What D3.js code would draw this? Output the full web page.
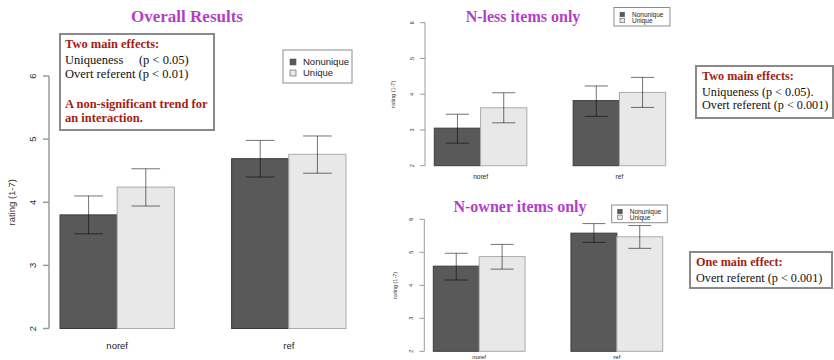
<!DOCTYPE html>
<html>
<head>
<meta charset="utf-8">
<script src="https://cdn.jsdelivr.net/npm/d3@7"></script>
<style>
  html, body { margin: 0; padding: 0; background: #fff; }
  svg { display: block; }
</style>
</head>
<body>
<svg id="chart" width="834" height="360"></svg>
<script>
// --- data ---
const groups = ['noref', 'ref'];
const series = ['Nonunique', 'Unique'];
const yTicks = [2, 3, 4, 5, 6];

// overall results
const overallNonunique = [3.80, 4.69];
const overallNonuniqueLo = [3.50, 4.40];
const overallNonuniqueHi = [4.10, 4.98];
const overallUnique = [4.24, 4.76];
const overallUniqueLo = [3.94, 4.46];
const overallUniqueHi = [4.53, 5.05];

// N-less items
const nlessNonunique = [3.05, 3.82];
const nlessNonuniqueLo = [2.63, 3.38];
const nlessNonuniqueHi = [3.44, 4.23];
const nlessUnique = [3.62, 4.05];
const nlessUniqueLo = [3.20, 3.63];
const nlessUniqueHi = [4.04, 4.47];

// N-owner items
const nownerNonunique = [4.58, 5.58];
const nownerNonuniqueLo = [4.16, 5.30];
const nownerNonuniqueHi = [4.97, 5.87];
const nownerUnique = [4.87, 5.47];
const nownerUniqueLo = [4.49, 5.12];
const nownerUniqueHi = [5.24, 5.81];

const fill = { Nonunique: '#595959', Unique: '#e8e8e8' };
const edge = { Nonunique: '#3c3c3c', Unique: '#ababab' };
const titleColor = '#b23fc6';
const noteColor = '#a31d12';

const svg = d3.select('#chart');

function rows(mean, lo, hi, nonU, nonULo, nonUHi) {
  // flatten into one row per bar
  const out = [];
  groups.forEach((g, i) => {
    out.push({ group: g, series: 'Nonunique', v: nonU[i], lo: nonULo[i], hi: nonUHi[i] });
    out.push({ group: g, series: 'Unique', v: mean[i], lo: lo[i], hi: hi[i] });
  });
  return out;
}

function drawPanel(p) {
  const g = svg.append('g');
  const y = d3.scaleLinear().domain([2, 6]).range(p.yRange);
  const x0 = d3.scaleBand().domain(groups).range(p.xRange).paddingInner(1 / 3).paddingOuter(0);
  const x1 = d3.scaleBand().domain(series).range([0, x0.bandwidth()]);

  // bars
  g.selectAll('rect.bar')
    .data(p.data)
    .join('rect')
    .attr('class', 'bar')
    .attr('x', d => x0(d.group) + x1(d.series))
    .attr('y', d => y(d.v))
    .attr('width', x1.bandwidth())
    .attr('height', d => y(2) - y(d.v))
    .attr('fill', d => fill[d.series])
    .attr('stroke', d => edge[d.series])
    .attr('stroke-width', p.barStroke);

  // error bars
  const cap = x1.bandwidth() * 0.25;
  const eb = g.selectAll('g.err').data(p.data).join('g').attr('class', 'err')
    .attr('stroke', 'rgba(0,0,0,0.55)').attr('stroke-width', 1).attr('fill', 'none');
  eb.append('line')
    .attr('x1', d => x0(d.group) + x1(d.series) + x1.bandwidth() / 2)
    .attr('x2', d => x0(d.group) + x1(d.series) + x1.bandwidth() / 2)
    .attr('y1', d => y(d.lo)).attr('y2', d => y(d.hi));
  ['lo', 'hi'].forEach(k => {
    eb.append('line')
      .attr('x1', d => x0(d.group) + x1(d.series) + x1.bandwidth() / 2 - cap)
      .attr('x2', d => x0(d.group) + x1(d.series) + x1.bandwidth() / 2 + cap)
      .attr('y1', d => y(d[k])).attr('y2', d => y(d[k]));
  });

  // y axis (R style: rotated labels)
  const ax = g.append('g').attr('stroke', '#9a9a9a').attr('stroke-width', p.axisStroke);
  ax.append('line').attr('x1', p.axisX).attr('x2', p.axisX)
    .attr('y1', y(6)).attr('y2', y(2));
  ax.selectAll('line.tick').data(yTicks).join('line').attr('class', 'tick')
    .attr('x1', p.axisX - p.tickLen).attr('x2', p.axisX)
    .attr('y1', d => y(d)).attr('y2', d => y(d));
  g.selectAll('text.ytick').data(yTicks).join('text').attr('class', 'ytick')
    .attr('transform', d => `translate(${p.tickLabelX},${y(d)}) rotate(-90)`)
    .attr('text-anchor', 'middle')
    .attr('dy', '0.35em')
    .attr('font-family', 'Liberation Sans, Arial, sans-serif')
    .attr('font-size', p.tickFont)
    .attr('fill', '#333')
    .text(d => d);
  g.append('text')
    .attr('transform', `translate(${p.yLabelX},${(y(2) + y(6)) / 2}) rotate(-90)`)
    .attr('text-anchor', 'middle')
    .attr('dy', '0.35em')
    .attr('font-family', 'Liberation Sans, Arial, sans-serif')
    .attr('font-size', p.yLabelFont)
    .attr('fill', '#333')
    .text('rating (1-7)');

  // group labels
  g.selectAll('text.xlab').data(groups).join('text').attr('class', 'xlab')
    .attr('x', d => x0(d) + x0.bandwidth() / 2)
    .attr('y', p.xLabelY)
    .attr('text-anchor', 'middle')
    .attr('font-family', 'Liberation Sans, Arial, sans-serif')
    .attr('font-size', p.xLabelFont)
    .attr('fill', '#222')
    .text(d => d);

  // title
  g.append('text')
    .attr('x', p.titleX).attr('y', p.titleY)
    .attr('text-anchor', 'middle')
    .attr('font-family', 'Liberation Serif, Times New Roman, serif')
    .attr('font-weight', 'bold')
    .attr('font-size', p.titleFont)
    .attr('fill', titleColor)
    .text(p.title);

  // legend
  const L = p.legend;
  const lg = g.append('g');
  lg.append('rect').attr('x', L.x).attr('y', L.y).attr('width', L.w).attr('height', L.h)
    .attr('fill', '#fff').attr('stroke', '#8c8c8c').attr('stroke-width', 1);
  series.forEach((s, i) => {
    const cy = L.y + L.row0 + i * L.rowGap;
    lg.append('rect')
      .attr('x', L.x + L.sx).attr('y', cy - L.sq / 2)
      .attr('width', L.sq).attr('height', L.sq)
      .attr('fill', fill[s]).attr('stroke', '#555').attr('stroke-width', 0.6);
    lg.append('text')
      .attr('x', L.x + L.tx).attr('y', cy).attr('dy', '0.35em')
      .attr('font-family', 'Liberation Sans, Arial, sans-serif')
      .attr('font-size', L.font).attr('fill', '#222')
      .text(s);
  });
}

function noteBox(b) {
  const g = svg.append('g');
  g.append('rect').attr('x', b.x).attr('y', b.y).attr('width', b.w).attr('height', b.h)
    .attr('fill', '#fff').attr('stroke', '#8a8a8a').attr('stroke-width', 2);
  b.lines.forEach(l => {
    g.append('text')
      .attr('x', b.x + b.pad).attr('y', l.y)
      .attr('font-family', 'Liberation Serif, Times New Roman, serif')
      .attr('font-size', b.font)
      .attr('font-weight', l.bold ? 'bold' : 'normal')
      .attr('fill', l.bold ? noteColor : '#111')
      .style('white-space', 'pre')
      .text(l.text);
  });
}

drawPanel({
  title: 'Overall Results', titleX: 187, titleY: 21.5, titleFont: 17,
  data: rows(overallUnique, overallUniqueLo, overallUniqueHi, overallNonunique, overallNonuniqueLo, overallNonuniqueHi),
  xRange: [60, 346], yRange: [328.5, 76],
  axisX: 49, tickLen: 6, axisStroke: 1.5, barStroke: 1,
  tickLabelX: 33, tickFont: 9.5, yLabelX: 12, yLabelFont: 9.5,
  xLabelY: 349, xLabelFont: 9.5,
  legend: { x: 283, y: 50, w: 69, h: 33, row0: 12, rowGap: 11, sx: 7, sq: 6, tx: 20, font: 9.5 }
});

drawPanel({
  title: 'N-less items only', titleX: 523, titleY: 22, titleFont: 16,
  data: rows(nlessUnique, nlessUniqueLo, nlessUniqueHi, nlessNonunique, nlessNonuniqueLo, nlessNonuniqueHi),
  xRange: [434.3, 665.7], yRange: [165.7, 22.7],
  axisX: 425, tickLen: 5, axisStroke: 1, barStroke: 1,
  tickLabelX: 412, tickFont: 5.5, yLabelX: 393, yLabelFont: 5.5,
  xLabelY: 179, xLabelFont: 6.5,
  legend: { x: 614, y: 7.5, w: 56, h: 18.5, row0: 7, rowGap: 6, sx: 6, sq: 4.5, tx: 18, font: 6.5 }
});

drawPanel({
  title: 'N-owner items only', titleX: 520, titleY: 211.5, titleFont: 16,
  data: rows(nownerUnique, nownerUniqueLo, nownerUniqueHi, nownerNonunique, nownerNonuniqueLo, nownerNonuniqueHi),
  xRange: [433.3, 662.7], yRange: [351.3, 219.3],
  axisX: 424.3, tickLen: 5, axisStroke: 1, barStroke: 1,
  tickLabelX: 411, tickFont: 5.5, yLabelX: 395, yLabelFont: 5.5,
  xLabelY: 358.5, xLabelFont: 6,
  legend: { x: 611.7, y: 205, w: 55.6, h: 17.7, row0: 6.5, rowGap: 5.8, sx: 6, sq: 4.5, tx: 18, font: 6.5 }
});

noteBox({
  x: 60, y: 34, w: 154, h: 96, pad: 5, font: 12.5,
  lines: [
    { text: 'Two main effects:', bold: true, y: 47.5 },
    { text: 'Uniqueness     (p < 0.05)', y: 64 },
    { text: 'Overt referent (p < 0.01)', y: 77.5 },
    { text: 'A non-significant trend for', bold: true, y: 107.5 },
    { text: 'an interaction.', bold: true, y: 121.5 }
  ]
});

noteBox({
  x: 696, y: 66, w: 137, h: 52, pad: 6, font: 12.2,
  lines: [
    { text: 'Two main effects:', bold: true, y: 80 },
    { text: 'Uniqueness (p < 0.05).', y: 95.5 },
    { text: 'Overt referent (p < 0.001)', y: 109 }
  ]
});

noteBox({
  x: 690, y: 252, w: 142, h: 36, pad: 6, font: 12.2,
  lines: [
    { text: 'One main effect:', bold: true, y: 265.5 },
    { text: 'Overt referent (p < 0.001)', y: 282 }
  ]
});
</script>
</body>
</html>
